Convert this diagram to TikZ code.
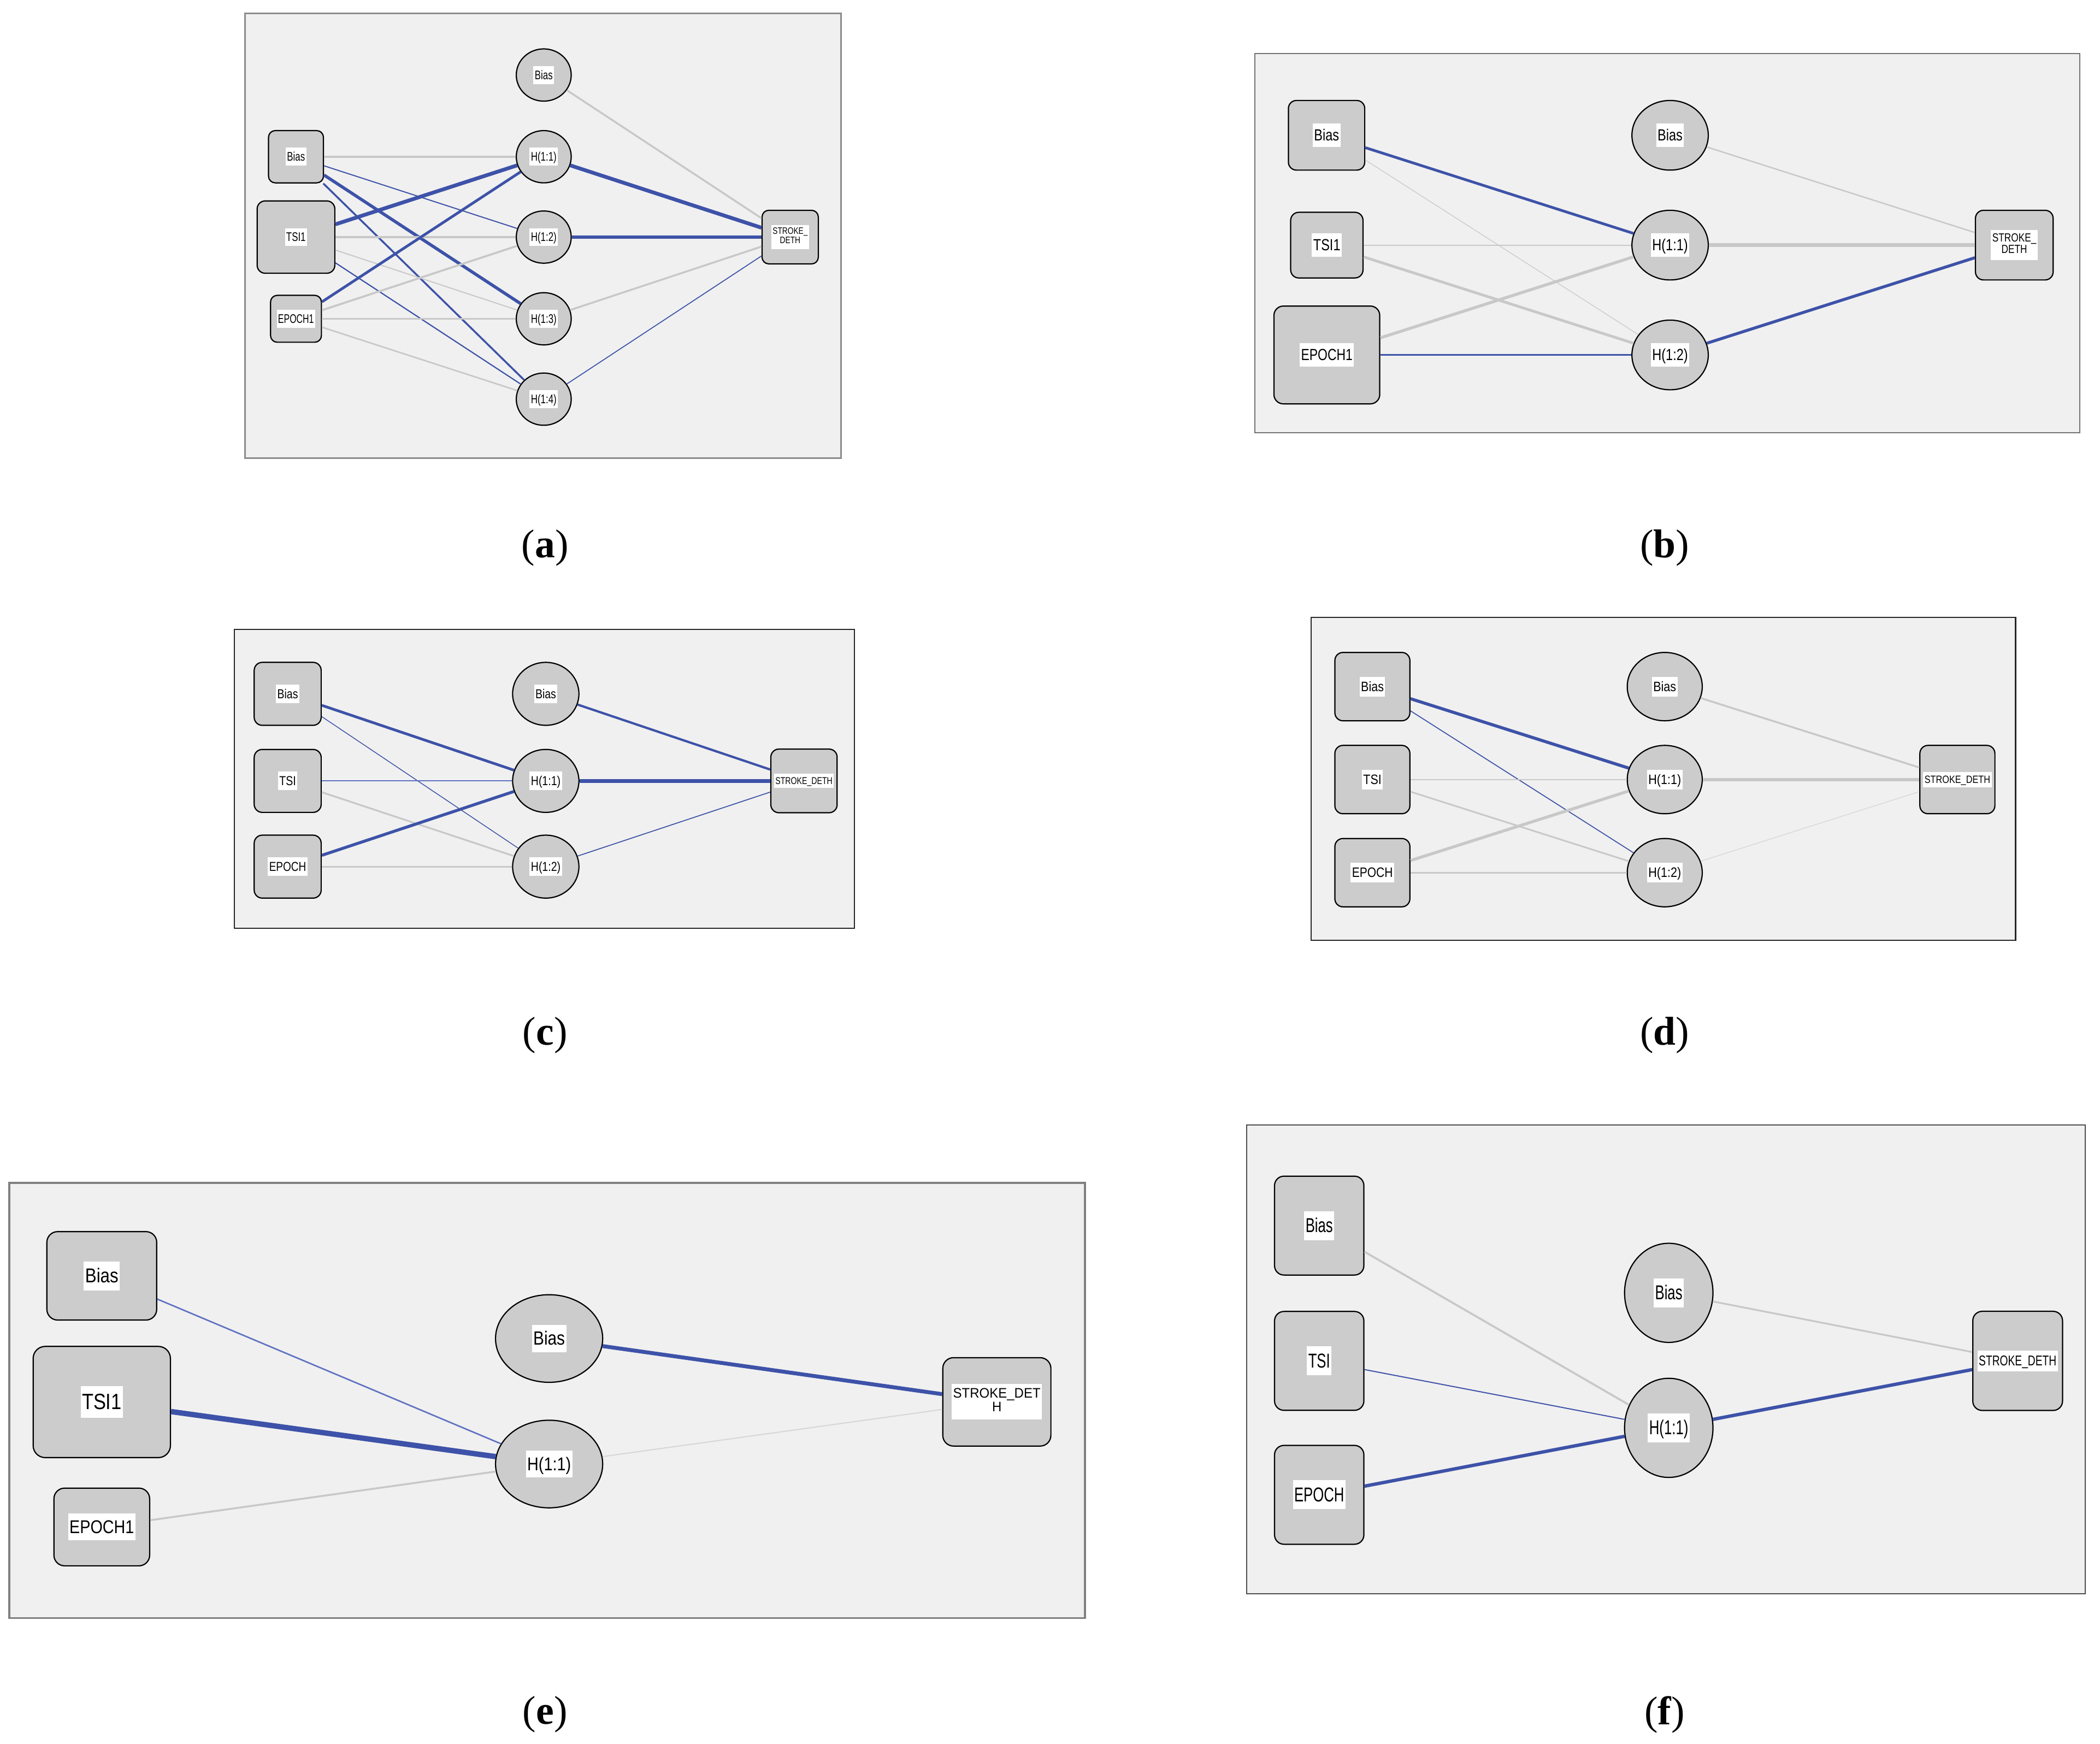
\documentclass[tikz,border=0pt]{standalone}
\usepackage{fontspec}
\setmainfont{Liberation Sans}
\newfontfamily\capfont{Liberation Serif}
\usepackage{graphicx}
\usetikzlibrary{shapes.geometric}
\definecolor{blu}{HTML}{3D52A8}
\definecolor{lblu}{HTML}{6072C2}
\definecolor{gry}{HTML}{C8C8C8}
\definecolor{lgry}{HTML}{D6D6D6}
\definecolor{bgc}{HTML}{F0F0F0}
\definecolor{nfill}{HTML}{CCCCCC}
\newcommand{\sx}[2]{\scalebox{#1}[1]{#2}}
\tikzset{
  panelbox/.style={fill=bgc, draw=#1},
  inbox/.style n args={3}{rectangle, rounded corners=#3, draw=black, fill=nfill, line width=0.9pt, minimum width=#1, minimum height=#2, inner sep=0pt},
  hid/.style 2 args={ellipse, draw=black, fill=nfill, line width=0.9pt, minimum width=#1, minimum height=#2, inner sep=0pt},
  lbl/.style={fill=white, inner xsep=1pt, inner ysep=0pt, text height={1.06*#1pt}, text depth={0.38*#1pt}, font=\fontsize{#1}{#1}\selectfont},
  lbltwo/.style={fill=white, inner xsep=1pt, inner ysep={0.28*#1pt}, font=\fontsize{#1}{#1}\selectfont},
  wb/.style={draw=blu, line width=#1},
  wlb/.style={draw=lblu, line width=#1},
  wg/.style={draw=gry, line width=#1},
  wlg/.style={draw=lgry, line width=#1},
  captxt/.style={font=\capfont\fontsize{30}{32}\selectfont, inner sep=0pt},
}
\begin{document}
\begin{tikzpicture}[x=1pt, y=-1pt]
\useasboundingbox (0,0) rectangle (1568,1302);

% ================= (a) =================
\draw[panelbox={black!45}, line width=1pt] (183,10) rectangle (628,342);
\begin{scope}[every node/.append style={draw=black!80, line width=0.7pt}]
\node[inbox={41pt}{39pt}{5pt}, label={[lbl=9.3, draw=none]center:{\sx{0.74}{Bias}}}] (aI1) at (221,117) {};
\node[inbox={58pt}{54pt}{6pt}, label={[lbl=9.3, draw=none]center:{\sx{0.74}{TSI1}}}] (aI2) at (221,177) {};
\node[inbox={38pt}{35pt}{5pt}, label={[lbl=9.3, draw=none]center:{\sx{0.7}{EPOCH1}}}] (aI3) at (221,238) {};
\node[hid={41pt}{39pt}, label={[lbl=9.3, draw=none]center:{\sx{0.74}{Bias}}}] (aB) at (406,56) {};
\node[hid={41pt}{39pt}, label={[lbl=9.3, draw=none]center:{\sx{0.74}{H(1:1)}}}] (aH1) at (406,117) {};
\node[hid={41pt}{39pt}, label={[lbl=9.3, draw=none]center:{\sx{0.74}{H(1:2)}}}] (aH2) at (406,177) {};
\node[hid={41pt}{39pt}, label={[lbl=9.3, draw=none]center:{\sx{0.74}{H(1:3)}}}] (aH3) at (406,238) {};
\node[hid={41pt}{39pt}, label={[lbl=9.3, draw=none]center:{\sx{0.74}{H(1:4)}}}] (aH4) at (406,298) {};
\node[inbox={42pt}{40pt}{5pt}, label={[lbltwo=7, draw=none]center:{\sx{0.8}{\begin{tabular}{@{}c@{}}STROKE\_\\DETH\end{tabular}}}}] (aO) at (590,177) {};
\end{scope}
\draw[wg=1.5pt] (aI1) -- (aH1);
\draw[wb=0.8pt] (aI1) -- (aH2);
\draw[wb=2.3pt] (aI1) -- (aH3);
\draw[wb=1.4pt] (aI1) -- (aH4);
\draw[wb=2.8pt] (aI2) -- (aH1);
\draw[wg=1.4pt] (aI2) -- (aH2);
\draw[wg=0.8pt] (aI2) -- (aH3);
\draw[wb=0.9pt] (aI2) -- (aH4);
\draw[wb=2.0pt] (aI3) -- (aH1);
\draw[wg=1.5pt] (aI3) -- (aH2);
\draw[wg=1.4pt] (aI3) -- (aH3);
\draw[wg=1.1pt] (aI3) -- (aH4);
\draw[wg=1.4pt] (aB) -- (aO);
\draw[wb=2.8pt] (aH1) -- (aO);
\draw[wb=2.5pt] (aH2) -- (aO);
\draw[wg=1.4pt] (aH3) -- (aO);
\draw[wb=0.7pt] (aH4) -- (aO);
\node[captxt] (capa) at (407,409) {(\textbf{a})};

% ================= (b) =================
\draw[panelbox={black!55}, line width=0.8pt] (937,40) rectangle (1553,323);
\node[inbox={57pt}{52pt}{6pt}, label={[lbl=12]center:{\sx{0.8}{Bias}}}] (bI1) at (990.5,101) {};
\node[inbox={54pt}{49pt}{6pt}, label={[lbl=12]center:{\sx{0.8}{TSI1}}}] (bI2) at (990.7,183) {};
\node[inbox={79pt}{73pt}{7pt}, label={[lbl=12]center:{\sx{0.78}{EPOCH1}}}] (bI3) at (990.7,265) {};
\node[hid={57pt}{52pt}, label={[lbl=12]center:{\sx{0.8}{Bias}}}] (bB) at (1247,101) {};
\node[hid={57pt}{52pt}, label={[lbl=12]center:{\sx{0.8}{H(1:1)}}}] (bH1) at (1247,183) {};
\node[hid={57pt}{52pt}, label={[lbl=12]center:{\sx{0.8}{H(1:2)}}}] (bH2) at (1247,265) {};
\node[inbox={58pt}{52pt}{6pt}, label={[lbltwo=8.8]center:{\sx{0.8}{\begin{tabular}{@{}c@{}}STROKE\_\\DETH\end{tabular}}}}] (bO) at (1504,183) {};
\draw[wb=2.0pt] (bI1) -- (bH1);
\draw[wg=0.5pt] (bI1) -- (bH2);
\draw[wg=0.8pt] (bI2) -- (bH1);
\draw[wg=2.0pt] (bI2) -- (bH2);
\draw[wg=2.2pt] (bI3) -- (bH1);
\draw[wb=1.4pt] (bI3) -- (bH2);
\draw[wg=1.0pt] (bB) -- (bO);
\draw[wg=3.1pt] (bH1) -- (bO);
\draw[wb=2.2pt] (bH2) -- (bO);
\node[captxt] (capb) at (1243,409) {(\textbf{b})};

% ================= (c) =================
\draw[panelbox={black!85}, line width=1pt] (175,470) rectangle (638,693);
\node[inbox={50pt}{47pt}{6pt}, label={[lbl=9.7]center:{\sx{0.82}{Bias}}}] (cI1) at (214.8,518) {};
\node[inbox={50pt}{47pt}{6pt}, label={[lbl=9.7]center:{\sx{0.82}{TSI}}}] (cI2) at (214.8,583) {};
\node[inbox={50pt}{47pt}{6pt}, label={[lbl=9.7]center:{\sx{0.8}{EPOCH}}}] (cI3) at (214.8,647) {};
\node[hid={49.5pt}{47pt}, label={[lbl=9.7]center:{\sx{0.82}{Bias}}}] (cB) at (407.5,518) {};
\node[hid={49.5pt}{47pt}, label={[lbl=9.7]center:{\sx{0.82}{H(1:1)}}}] (cH1) at (407.5,583) {};
\node[hid={49.5pt}{47pt}, label={[lbl=9.7]center:{\sx{0.82}{H(1:2)}}}] (cH2) at (407.5,647) {};
\node[inbox={49.5pt}{47.5pt}{6pt}, label={[lbl=7.4]center:{\sx{0.78}{STROKE\_DETH}}}] (cO) at (600.3,583) {};
\draw[wb=2.0pt] (cI1) -- (cH1);
\draw[wb=0.6pt] (cI1) -- (cH2);
\draw[wlb=0.7pt] (cI2) -- (cH1);
\draw[wg=1.3pt] (cI2) -- (cH2);
\draw[wb=2.2pt] (cI3) -- (cH1);
\draw[wg=1.3pt] (cI3) -- (cH2);
\draw[wb=1.7pt] (cB) -- (cO);
\draw[wb=2.7pt] (cH1) -- (cO);
\draw[wb=0.7pt] (cH2) -- (cO);
\node[captxt] (capc) at (407,773) {(\textbf{c})};

% ================= (d) =================
\draw[panelbox={black!85}, line width=1pt] (979,461) rectangle (1505,702);
\node[inbox={56pt}{51pt}{6pt}, label={[lbl=10.2]center:{\sx{0.86}{Bias}}}] (dI1) at (1024.7,512.6) {};
\node[inbox={56pt}{51pt}{6pt}, label={[lbl=10.2]center:{\sx{0.86}{TSI}}}] (dI2) at (1024.7,582) {};
\node[inbox={56pt}{51pt}{6pt}, label={[lbl=10.2]center:{\sx{0.84}{EPOCH}}}] (dI3) at (1024.7,651.5) {};
\node[hid={56pt}{51pt}, label={[lbl=10.2]center:{\sx{0.86}{Bias}}}] (dB) at (1243,512.6) {};
\node[hid={56pt}{51pt}, label={[lbl=10.2]center:{\sx{0.86}{H(1:1)}}}] (dH1) at (1243,582) {};
\node[hid={56pt}{51pt}, label={[lbl=10.2]center:{\sx{0.86}{H(1:2)}}}] (dH2) at (1243,651.5) {};
\node[inbox={56pt}{51pt}{6pt}, label={[lbl=7.9]center:{\sx{0.84}{STROKE\_DETH}}}] (dO) at (1461.5,582) {};
\draw[wb=2.3pt] (dI1) -- (dH1);
\draw[wb=0.7pt] (dI1) -- (dH2);
\draw[wg=0.8pt] (dI2) -- (dH1);
\draw[wg=1.2pt] (dI2) -- (dH2);
\draw[wg=2.2pt] (dI3) -- (dH1);
\draw[wg=1.2pt] (dI3) -- (dH2);
\draw[wg=1.4pt] (dB) -- (dO);
\draw[wg=2.2pt] (dH1) -- (dO);
\draw[wlg=0.5pt] (dH2) -- (dO);
\node[captxt] (capd) at (1243,773) {(\textbf{d})};

% ================= (e) =================
\draw[panelbox={black!50}, line width=1.6pt] (7,883) rectangle (810,1208);
\begin{scope}[every node/.append style={draw=black!75, line width=1.1pt}]
\node[inbox={82pt}{66pt}{8pt}, label={[lbl=15, draw=none]center:{\sx{0.85}{Bias}}}] (eI1) at (76,952.5) {};
\node[inbox={102.5pt}{83pt}{9pt}, label={[lbl=16.5, draw=none]center:{\sx{0.85}{TSI1}}}] (eI2) at (76,1046.7) {};
\node[inbox={71.5pt}{58pt}{8pt}, label={[lbl=13.8, draw=none]center:{\sx{0.85}{EPOCH1}}}] (eI3) at (76,1140) {};
\node[hid={80pt}{65.4pt}, label={[lbl=14.3, draw=none]center:{\sx{0.85}{Bias}}}] (eB) at (410,999.3) {};
\node[hid={80pt}{65.4pt}, label={[lbl=13.8, draw=none]center:{\sx{0.85}{H(1:1)}}}] (eH1) at (410,1093) {};
\node[inbox={80.7pt}{66pt}{8pt}, label={[lbltwo=10.3, draw=none]center:{\sx{0.95}{\begin{tabular}{@{}c@{}}STROKE\_DET\\H\end{tabular}}}}] (eO) at (744.3,1046.6) {};
\end{scope}
\draw[wlb=1.1pt] (eI1) -- (eH1);
\draw[wb=4.0pt] (eI2) -- (eH1);
\draw[wg=1.4pt] (eI3) -- (eH1);
\draw[wb=2.9pt] (eB) -- (eO);
\draw[wlg=0.8pt] (eH1) -- (eO);
\node[captxt] (cape) at (407,1280) {(\textbf{e})};

% ================= (f) =================
\draw[panelbox={black!70}, line width=0.8pt] (931,840) rectangle (1557,1190);
\node[inbox={66.7pt}{73.8pt}{7pt}, label={[lbl=15]center:{\sx{0.7}{Bias}}}] (fI1) at (985,915) {};
\node[inbox={66.7pt}{73.8pt}{7pt}, label={[lbl=15]center:{\sx{0.7}{TSI}}}] (fI2) at (985,1016) {};
\node[inbox={66.7pt}{73.8pt}{7pt}, label={[lbl=15]center:{\sx{0.7}{EPOCH}}}] (fI3) at (985,1116) {};
\node[hid={66pt}{74pt}, label={[lbl=15]center:{\sx{0.7}{Bias}}}] (fB) at (1246,965.2) {};
\node[hid={66pt}{74pt}, label={[lbl=15]center:{\sx{0.7}{H(1:1)}}}] (fH1) at (1246,1066) {};
\node[inbox={67pt}{74pt}{7pt}, label={[lbl=10.6]center:{\sx{0.74}{STROKE\_DETH}}}] (fO) at (1506.5,1016) {};
\draw[wg=1.5pt] (fI1) -- (fH1);
\draw[wb=0.8pt] (fI2) -- (fH1);
\draw[wb=2.5pt] (fI3) -- (fH1);
\draw[wg=1.3pt] (fB) -- (fO);
\draw[wb=2.5pt] (fH1) -- (fO);
\node[captxt] (capf) at (1243,1280) {(\textbf{f})};
\end{tikzpicture}
\end{document}
